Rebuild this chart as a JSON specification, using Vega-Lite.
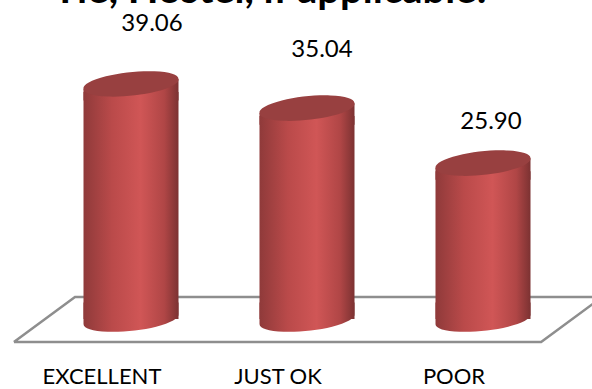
{
"$schema":"https://vega.github.io/schema/vega-lite/v6.json",
"width":592,"height":350,"autosize":"none",
"padding":{"left":0,"top":0,"right":0,"bottom":39},
"background":"white",
"view":{"stroke":null},
"datasets":{
"bars":[{"category":"EXCELLENT","value":39.06},{"category":"JUST OK","value":35.04},{"category":"POOR","value":25.90}],
"floor":[{"pos":-0.665,"level":-3.8,"seq":1},{"pos":-0.318,"level":3.65,"seq":2},{"pos":2.676,"level":3.65,"seq":3},{"pos":2.33,"level":-3.8,"seq":4},{"pos":-0.665,"level":-3.8,"seq":5}]
},
"resolve":{"scale":{"x":"independent"}},
"layer":[
{"layer":[
 {"data":{"name":"floor"},
 "mark":{"type":"line","color":"#8e8e8e","strokeWidth":2.5,"clip":true},
 "encoding":{
  "x":{"field":"pos","type":"quantitative","axis":null,"scale":{"domain":[-0.744,2.619],"nice":false,"zero":false}},
  "y":{"field":"level","type":"quantitative","axis":null,"scale":{"domain":[-5.14,53],"nice":false,"zero":false}},
  "order":{"field":"seq","type":"ordinal"}}},
 {"data":{"values":[{"heading":"Tie, Hostel, if applicable:"}]},
  "mark":{"type":"text","align":"center","baseline":"alphabetic","font":"Lato","fontWeight":"bold","fontSize":40,"color":"#000000"},
  "encoding":{
   "x":{"datum":0.79,"type":"quantitative","axis":null},
   "y":{"datum":52.5,"type":"quantitative","axis":null},
   "text":{"field":"heading","type":"nominal"}}}
]},
{"data":{"name":"bars"},
 "encoding":{
  "x":{"field":"category","type":"nominal","sort":null,"title":null,
   "scale":{"range":[43,571],"paddingInner":0,"paddingOuter":0},
   "axis":{"domain":false,"ticks":false,"grid":false,"labelAngle":0,"labelOffset":-29,"labelPadding":16,"labelFont":"Lato","labelFontSize":22,"labelColor":"#000000"}}},
 "layer":[
  {"mark":{"type":"point","filled":true,"opacity":1,"size":9025,"shape":"M-1,-0.35L1,-0.35L1,-0.104A1.006,0.24,-6,1,1,-1,0.104Z",
    "fill":{"gradient":"linear","x1":0,"y1":0,"x2":1,"y2":0,"stops":[{"offset":0,"color":"#8f3a3a"},{"offset":0.3,"color":"#ba4a4a"},{"offset":0.6,"color":"#d05656"},{"offset":0.85,"color":"#b04646"},{"offset":1,"color":"#7c3232"}]}},
   "encoding":{"y":{"datum":0,"type":"quantitative","axis":null}}},
  {"mark":{"type":"bar","size":95,"yOffset":8,"y2Offset":-8,
    "fill":{"gradient":"linear","x1":0,"y1":0,"x2":1,"y2":0,"stops":[{"offset":0,"color":"#8f3a3a"},{"offset":0.3,"color":"#ba4a4a"},{"offset":0.6,"color":"#d05656"},{"offset":0.85,"color":"#b04646"},{"offset":1,"color":"#7c3232"}]}},
   "encoding":{"y":{"field":"value","type":"quantitative","axis":null,"stack":null}}},
  {"mark":{"type":"point","filled":true,"opacity":1,"size":9025,"shape":"M-1,0.104L1,-0.104L1,0.35L-1,0.35Z",
    "fill":{"gradient":"linear","x1":0,"y1":0,"x2":1,"y2":0,"stops":[{"offset":0,"color":"#8f3a3a"},{"offset":0.3,"color":"#ba4a4a"},{"offset":0.6,"color":"#d05656"},{"offset":0.85,"color":"#b04646"},{"offset":1,"color":"#7c3232"}]}},
   "encoding":{"y":{"field":"value","type":"quantitative","axis":null}}},
  {"mark":{"type":"point","filled":true,"opacity":1,"size":9025,"color":"#984040","shape":"M-1,0.104A1.006,0.24,-6,1,1,1,-0.104A1.006,0.24,-6,1,1,-1,0.104Z"},
   "encoding":{"y":{"field":"value","type":"quantitative","axis":null}}},
  {"transform":[{"filter":"datum.category==='EXCELLENT'"}],
   "mark":{"type":"text","font":"Lato","fontSize":24,"color":"#000000","dx":21,"dy":-60},
   "encoding":{"y":{"field":"value","type":"quantitative","axis":null},"text":{"field":"value","type":"quantitative","format":".2f"}}},
  {"transform":[{"filter":"datum.category==='JUST OK'"}],
   "mark":{"type":"text","font":"Lato","fontSize":24,"color":"#000000","dx":15,"dy":-58},
   "encoding":{"y":{"field":"value","type":"quantitative","axis":null},"text":{"field":"value","type":"quantitative","format":".2f"}}},
  {"transform":[{"filter":"datum.category==='POOR'"}],
   "mark":{"type":"text","font":"Lato","fontSize":24,"color":"#000000","dx":8,"dy":-41},
   "encoding":{"y":{"field":"value","type":"quantitative","axis":null},"text":{"field":"value","type":"quantitative","format":".2f"}}}
 ]}
]
}
